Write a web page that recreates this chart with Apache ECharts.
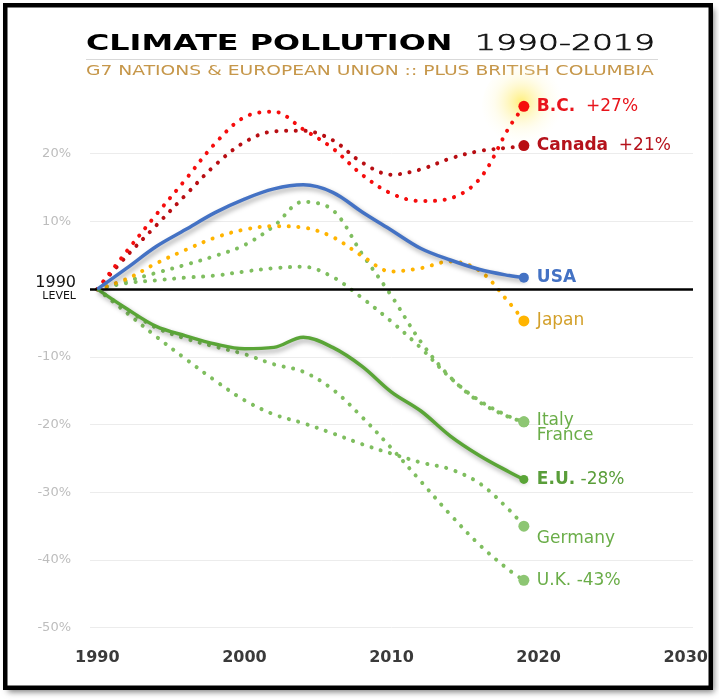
<!DOCTYPE html>
<html><head><meta charset="utf-8">
<script src="https://cdn.jsdelivr.net/npm/echarts@6/dist/echarts.min.js"></script>
<style>html,body{margin:0;padding:0;background:#fff}#c{width:719px;height:700px}</style>
</head><body><div id="c"></div>
<script>
// ---- data (percent change vs 1990) ----
const years   = [1990,1992,1994,1996,1998,2000,2002,2004,2006,2008,2010,2012,2014,2016,2018,2019];
const bc      = [0,5.6,11.0,16.2,21.5,25.4,26.2,23.6,20.8,16.9,14.1,13.0,13.4,16.3,23.9,27];
const canada  = [0,4.9,9.4,13.9,18.3,21.7,23.3,23.4,22.0,18.7,16.9,17.7,19.3,20.4,20.9,21.2];
const usa     = [0,3.1,6.3,8.8,11.3,13.3,14.8,15.4,14.3,11.4,8.7,6.0,4.3,2.9,2.0,1.7];
const japan   = [0,1.5,3.8,5.8,7.6,8.8,9.3,9.1,7.7,4.9,2.6,3.1,4.1,2.7,-2.0,-4.7];
const italy   = [0,1.2,2.4,3.6,4.9,6.5,9.3,12.9,11.7,5.2,-1.0,-7.8,-13.0,-16.7,-18.9,-19.6];
const france  = [0,0.9,1.3,1.7,2.0,2.6,3.1,3.3,1.8,-1.3,-4.8,-8.7,-13.1,-16.5,-18.8,-19.6];
const eu      = [0,-2.9,-5.5,-6.9,-8.1,-8.8,-8.6,-7.1,-8.6,-11.4,-15.2,-18.0,-21.7,-24.6,-27.0,-28.1];
const germany = [0,-3.5,-7.0,-10.3,-13.5,-16.4,-18.5,-19.8,-21.3,-22.9,-24.3,-25.6,-26.6,-28.7,-32.6,-35.0];
const uk      = [0,-3.0,-5.7,-7.3,-8.5,-9.6,-11.1,-12.2,-14.8,-18.9,-23.5,-28.4,-33.3,-37.8,-41.5,-43.0];

const xTicks = [1990,2000,2010,2020,2030];
const yMin = -50, yMax = 30, yStep = 10;

const FONT = 'DejaVu Sans';
const GREEN_DOT = '#7fbe5f', GREEN_TXT = '#6aad48';

function mk(name, vals, o) {
  const last = vals.length - 1;
  const ls = o.solid
    ? { color: o.color, width: 3.5, shadowColor: 'rgba(0,0,0,0.35)', shadowBlur: 5, shadowOffsetX: 2, shadowOffsetY: 3 }
    : { color: o.color, width: 4, type: [0.1, 9.6], cap: 'round' };
  return {
    name: name, type: 'line',
    data: years.map((y, i) => [y, vals[i]]),
    smooth: 0.35,
    symbol: 'circle', showSymbol: true, showAllSymbol: true,
    symbolSize: (v, p) => p.dataIndex === last ? o.dot : 0,
    itemStyle: { color: o.dotColor || o.color },
    lineStyle: ls,
    z: o.z || 4,
    silent: true,
    emphasis: { disabled: true },
    endLabel: o.label ? {
      show: true, formatter: o.label, distance: 13, offset: o.offset || [0, 0],
      fontFamily: FONT, fontSize: 17, color: o.txt, lineHeight: o.lh || 20,
      rich: {
        b: { fontFamily: FONT, fontSize: 17, fontWeight: 'bold', color: o.txt },
        n: { fontFamily: FONT, fontSize: 17, color: o.txt }
      }
    } : { show: false }
  };
}

const series = [
  { type: 'scatter', data: [[years[years.length-1], bc[bc.length-1]]], symbolSize: 84, z: 1, silent: true,
    itemStyle: { color: { type: 'radial', x: 0.47, y: 0.45, r: 0.5, colorStops: [
      { offset: 0, color: 'rgba(255,232,60,0.85)' },
      { offset: 0.3, color: 'rgba(255,238,120,0.6)' },
      { offset: 0.65, color: 'rgba(255,246,185,0.28)' },
      { offset: 1, color: 'rgba(255,252,225,0)' } ] } } },
  { type: 'line', data: [], z: 2, silent: true,
    markLine: { silent: true, symbol: ['none', 'none'], label: { show: false },
      lineStyle: { color: '#000', width: 2.5, type: 'solid' }, data: [{ yAxis: 0 }] } },
  mk('Germany', germany, { color: GREEN_DOT, dotColor: '#8dc673', dot: 11, txt: GREEN_TXT, label: 'Germany', offset: [0, 12] }),
  mk('U.K.', uk, { color: GREEN_DOT, dotColor: '#8dc673', dot: 11, txt: GREEN_TXT, label: 'U.K. -43%' }),
  mk('France', france, { color: GREEN_DOT, dotColor: '#8dc673', dot: 11 }),
  mk('Italy', italy, { color: GREEN_DOT, dotColor: '#8dc673', dot: 11, txt: GREEN_TXT, label: 'Italy\nFrance', lh: 15, offset: [0, 6] }),
  mk('Japan', japan, { color: '#ffb400', dot: 11, txt: '#d3a02a', label: 'Japan' }),
  mk('Canada', canada, { color: '#b80d12', dot: 11, txt: '#b5121b', label: '{b|Canada}  {n|+21%}' }),
  mk('B.C.', bc, { color: '#f50d0d', dot: 11, txt: '#e8141b', label: '{b|B.C.}  {n|+27%}' }),
  mk('E.U.', eu, { solid: true, color: '#5aa537', dot: 9, txt: '#5a9e3a', label: '{b|E.U.} {n|-28%}', z: 6 }),
  mk('USA', usa, { solid: true, color: '#4472c4', dot: 10, txt: '#4472c4', label: '{b|USA}', z: 6 })
];

const splitColors = [];
for (let v = yMin; v <= yMax; v += yStep) splitColors.push(v === yMax ? 'rgba(0,0,0,0)' : '#ececec');

const chart = echarts.init(document.getElementById('c'));
chart.setOption({
  animation: false,
  backgroundColor: '#fff',
  grid: { left: 90, right: 26, top: 86, bottom: 72.3 },
  xAxis: {
    type: 'value', min: 1989.5, max: 2030.5,
    axisLine: { show: false }, axisTick: { show: false }, splitLine: { show: false },
    axisLabel: { customValues: xTicks, formatter: v => String(v), fontFamily: FONT, fontWeight: 'bold',
      fontSize: 16, color: '#3a3a3a', margin: 22 }
  },
  yAxis: {
    type: 'value', min: yMin, max: yMax, interval: yStep,
    axisLine: { show: false }, axisTick: { show: false },
    splitLine: { show: true, lineStyle: { color: splitColors, width: 1 } },
    axisLabel: {
      margin: 14, fontFamily: FONT, fontSize: 13, color: '#bdbdbd',
      formatter: v => v === 0 ? '{a|1990}\n{l|LEVEL}' : (v === yMax ? '' : '{g|' + v + '%}'),
      rich: {
        g: { fontFamily: FONT, fontSize: 13, color: '#bdbdbd', padding: [0, 5, 0, 0] },
        a: { fontFamily: FONT, fontSize: 16, color: '#111', lineHeight: 14 },
        l: { fontFamily: FONT, fontSize: 11, color: '#111', lineHeight: 12 }
      }
    }
  },
  series: series,
  graphic: [
    { type: 'rect', z: -10, silent: true, shape: { x: 5.25, y: 5.25, width: 705.5, height: 682.5 },
      style: { fill: '#fff', shadowBlur: 6, shadowColor: 'rgba(0,0,0,0.5)', shadowOffsetX: 3, shadowOffsetY: 4 } },
    { type: 'text', x: 86, y: 44, scaleX: 1.445, silent: true,
      style: { text: 'CLIMATE POLLUTION', fontFamily: FONT, fontWeight: 'bold', fontSize: 22, fill: '#000', align: 'left', verticalAlign: 'middle' } },
    { type: 'text', x: 475, y: 44, scaleX: 1.5, silent: true,
      style: { text: '1990-2019', fontFamily: FONT, fontWeight: 200, fontSize: 22, fill: '#111', stroke: '#111', lineWidth: 0.7, align: 'left', verticalAlign: 'middle' } },
    { type: 'line', silent: true, shape: { x1: 86, y1: 59.5, x2: 658, y2: 59.5 }, style: { stroke: '#d9d9d9', lineWidth: 1 } },
    { type: 'text', x: 86, y: 71, scaleX: 1.29, silent: true,
      style: { text: 'G7 NATIONS & EUROPEAN UNION :: PLUS BRITISH COLUMBIA', fontFamily: FONT, fontSize: 14.5, fill: '#c6974a', align: 'left', verticalAlign: 'middle' } },
    { type: 'rect', z: 100, silent: true, shape: { x: 5.25, y: 5.25, width: 705.5, height: 682.5 },
      style: { fill: 'none', stroke: '#000', lineWidth: 4.5 } }
  ]
});
</script></body></html>
